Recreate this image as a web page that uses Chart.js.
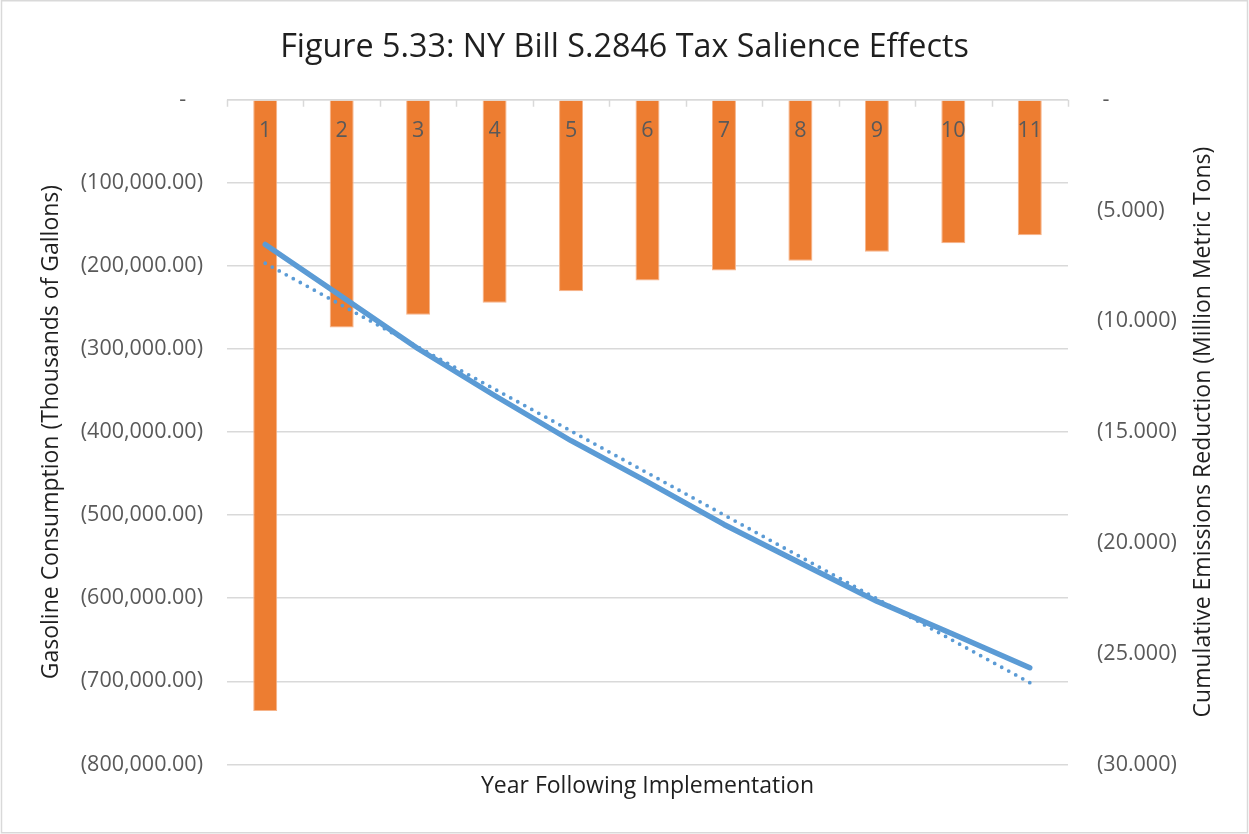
<!DOCTYPE html>
<html>
<head>
<meta charset="utf-8">
<title>Figure 5.33: NY Bill S.2846 Tax Salience Effects</title>
<script src="https://cdn.jsdelivr.net/npm/chart.js@4/dist/chart.umd.min.js"></script>
<style>
  html, body { margin: 0; padding: 0; background: #ffffff; }
  canvas { display: block; }
</style>
</head>
<body>
<canvas id="chart" width="1249" height="834"></canvas>
<script>
// Years following implementation of the bill
const years = ['1', '2', '3', '4', '5', '6', '7', '8', '9', '10', '11'];

// Change in gasoline consumption per year (thousands of gallons)
const gasolineChange = [-735700, -274200, -258900, -244400, -230500, -217600,
                        -205500, -193900, -183000, -172700, -163000];

// Cumulative emissions reduction (million metric tons)
const cumulativeEmissions = [-6.53, -8.88, -11.24, -13.35, -15.39, -17.25,
                             -19.17, -20.91, -22.64, -24.13, -25.64];

// Linear trendline of the cumulative emissions, at year 1 and year 11
const emissionsTrendEnds = [-7.38, -26.31];

// Axis tick settings
const gasolineTicks = { min: -800000, max: 0, step: 100000 };
const emissionsTicks = { min: -30, max: 0, step: 5 };

const trendSeries = years.map((_, i) =>
  i === 0 ? emissionsTrendEnds[0] : (i === years.length - 1 ? emissionsTrendEnds[1] : null));

const FONT = "'Open Sans', 'DejaVu Sans', sans-serif";
const LABEL_COLOR = '#595959';
const TITLE_COLOR = '#1f1f1f';
const GRID_COLOR = '#d9d9d9';
const TICK_SIZE = 21.5;
const AXIS_TITLE_SIZE = 23;

Chart.defaults.font.family = FONT;
Chart.defaults.color = LABEL_COLOR;

function accounting(v, digits) {
  return '(' + Math.abs(v).toLocaleString('en-US', {
    minimumFractionDigits: digits, maximumFractionDigits: digits
  }) + ')';
}

// Frame around the whole chart, category axis along the top, right-hand axis title
const decorations = {
  id: 'decorations',
  beforeDraw(chart) {
    const ctx = chart.ctx;
    ctx.save();
    ctx.fillStyle = '#ffffff';
    ctx.fillRect(0, 0, chart.width, chart.height);
    ctx.strokeStyle = GRID_COLOR;
    ctx.lineWidth = 1.5;
    ctx.strokeRect(1.5, 0.75, chart.width - 3, chart.height - 2);
    ctx.restore();
  },
  afterDatasetsDraw(chart) {
    const ctx = chart.ctx;
    const area = chart.chartArea;
    const x = chart.scales.x;
    const y0 = chart.scales.y.getPixelForValue(0);
    ctx.save();
    // category axis line and tick marks
    ctx.strokeStyle = GRID_COLOR;
    ctx.lineWidth = 1.5;
    ctx.beginPath();
    ctx.moveTo(area.left, y0);
    ctx.lineTo(area.right, y0);
    const n = years.length;
    const step = (area.right - area.left) / n;
    for (let i = 0; i <= n; i++) {
      const px = Math.round(x.getPixelForValue(0) - step / 2 + i * step) + 0.5;
      ctx.moveTo(px, y0);
      ctx.lineTo(px, y0 + 7);
    }
    ctx.stroke();
    // category labels just below the axis line
    ctx.fillStyle = LABEL_COLOR;
    ctx.font = TICK_SIZE + 'px ' + FONT;
    ctx.textAlign = 'center';
    ctx.textBaseline = 'middle';
    years.forEach((label, i) => {
      ctx.fillText(label, x.getPixelForValue(i), y0 + 31);
    });
    ctx.restore();
  },
  afterDraw(chart) {
    const ctx = chart.ctx;
    const area = chart.chartArea;
    ctx.save();
    ctx.translate(1203, (area.top + area.bottom) / 2);
    ctx.rotate(-Math.PI / 2);
    ctx.fillStyle = TITLE_COLOR;
    ctx.font = AXIS_TITLE_SIZE + 'px ' + FONT;
    ctx.textAlign = 'center';
    ctx.textBaseline = 'middle';
    ctx.fillText('Cumulative Emissions Reduction (Million Metric Tons)', 0, 0);
    ctx.restore();
  }
};

new Chart(document.getElementById('chart'), {
  data: {
    labels: years,
    datasets: [
      {
        type: 'line',
        label: 'Linear (Cumulative Emissions Reduction)',
        data: trendSeries,
        yAxisID: 'y2',
        order: 0,
        spanGaps: true,
        borderColor: '#5b9bd5',
        borderWidth: 3.8,
        borderDash: [0, 8],
        borderCapStyle: 'round',
        pointRadius: 0,
        fill: false
      },
      {
        type: 'line',
        label: 'Cumulative Emissions Reduction',
        data: cumulativeEmissions,
        yAxisID: 'y2',
        order: 1,
        borderColor: '#5b9bd5',
        borderWidth: 5.4,
        borderCapStyle: 'round',
        borderJoinStyle: 'round',
        pointRadius: 0,
        tension: 0,
        fill: false
      },
      {
        type: 'bar',
        label: 'Gasoline Consumption',
        data: gasolineChange,
        yAxisID: 'y',
        order: 2,
        backgroundColor: '#ed7d31',
        borderColor: '#f6b48a',
        borderWidth: 1,
        categoryPercentage: 1,
        barPercentage: 0.314
      }
    ]
  },
  options: {
    responsive: false,
    animation: false,
    devicePixelRatio: 1,
    layout: { padding: { left: 0, right: 0, top: 0, bottom: 0 } },
    plugins: {
      legend: { display: false },
      tooltip: { enabled: false },
      title: {
        display: true,
        text: 'Figure 5.33: NY Bill S.2846 Tax Salience Effects',
        color: TITLE_COLOR,
        font: { size: 32.3, weight: 'normal', family: FONT },
        padding: { top: 28, bottom: 33 }
      }
    },
    scales: {
      x: {
        type: 'category',
        offset: true,
        grid: { display: false, drawTicks: false },
        border: { display: false },
        ticks: { display: false },
        title: {
          display: true,
          text: 'Year Following Implementation',
          color: TITLE_COLOR,
          font: { size: AXIS_TITLE_SIZE },
          padding: { top: 8, bottom: 34 }
        }
      },
      y: {
        position: 'left',
        min: gasolineTicks.min,
        max: gasolineTicks.max,
        grid: { color: GRID_COLOR, lineWidth: 1.5, drawTicks: false },
        border: { display: false },
        ticks: {
          stepSize: gasolineTicks.step,
          padding: 24,
          color: LABEL_COLOR,
          font: { size: TICK_SIZE },
          callback: v => v === 0 ? '-   ' : accounting(v, 2)
        },
        title: {
          display: true,
          text: 'Gasoline Consumption (Thousands of Gallons)',
          color: TITLE_COLOR,
          font: { size: AXIS_TITLE_SIZE },
          padding: { top: 38, bottom: 0 }
        },
        afterFit(scale) { scale.width = 227; }
      },
      y2: {
        position: 'right',
        min: emissionsTicks.min,
        max: emissionsTicks.max,
        grid: { drawOnChartArea: false, drawTicks: false },
        border: { display: false },
        ticks: {
          stepSize: emissionsTicks.step,
          padding: 29,
          color: LABEL_COLOR,
          font: { size: TICK_SIZE },
          callback: v => v === 0 ? ' -' : accounting(v, 3)
        },
        afterFit(scale) { scale.width = 181; }
      }
    }
  },
  plugins: [decorations]
});
</script>
</body>
</html>
